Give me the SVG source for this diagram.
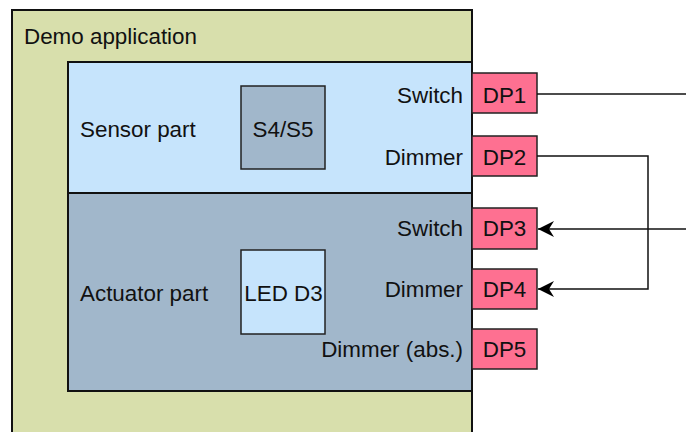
<svg xmlns="http://www.w3.org/2000/svg" width="686" height="432" viewBox="0 0 686 432">
<style>
text{font-family:"Liberation Sans",Arial,sans-serif;font-size:22.4px;fill:#111}
.box{stroke:#111;stroke-width:2}
.dp{fill:#fe7091;stroke:#222;stroke-width:1.5}
.lbl{text-anchor:end}
.mid{text-anchor:middle}
.wire{fill:none;stroke:#111;stroke-width:1.5}
</style>
<defs>
<marker id="arr" markerWidth="18" markerHeight="18" viewBox="0 0 18 18" refX="17" refY="9" orient="auto" markerUnits="userSpaceOnUse">
<path d="M17,9 L1,1 L6,9 L1,17 Z" fill="#000"/>
</marker>
</defs>
<g id="demo-app">
<rect class="box" x="12" y="10" width="460" height="440" fill="#d8dfac"/>
<text x="24" y="44">Demo application</text>
</g>
<g id="sensor-part">
<rect class="box" x="68" y="62" width="404" height="131" fill="#c6e4fc"/>
<text x="80" y="137">Sensor part</text>
<text class="lbl" x="463" y="103">Switch</text>
<text class="lbl" x="463" y="165">Dimmer</text>
</g>
<g id="s4s5">
<rect x="241" y="86" width="84" height="83" fill="#a1b7cb" stroke="#222" stroke-width="1.5"/>
<text class="mid" x="283" y="137">S4/S5</text>
</g>
<g id="actuator-part">
<rect class="box" x="68" y="193" width="404" height="198" fill="#a1b7cb"/>
<text x="80" y="301">Actuator part</text>
<text class="lbl" x="463" y="236">Switch</text>
<text class="lbl" x="463" y="297">Dimmer</text>
<text class="lbl" x="463" y="357">Dimmer (abs.)</text>
</g>
<g id="led-d3">
<rect x="241" y="250" width="84" height="84" fill="#c6e4fc" stroke="#222" stroke-width="1.5"/>
<text class="mid" x="283.5" y="301">LED D3</text>
</g>
<g id="dp1"><rect class="dp" x="472" y="73" width="65" height="40"/><text class="mid" x="504.5" y="103">DP1</text></g>
<g id="dp2"><rect class="dp" x="472" y="136" width="65" height="40"/><text class="mid" x="504.5" y="165">DP2</text></g>
<g id="dp3"><rect class="dp" x="472" y="208" width="65" height="41"/><text class="mid" x="504.5" y="236">DP3</text></g>
<g id="dp4"><rect class="dp" x="472" y="269" width="65" height="40"/><text class="mid" x="504.5" y="297">DP4</text></g>
<g id="dp5"><rect class="dp" x="472" y="329" width="65" height="40"/><text class="mid" x="504.5" y="357">DP5</text></g>
<g id="connectors">
<path class="wire" d="M537,94 H686"/>
<path class="wire" d="M537,156 H648 V289 H538" marker-end="url(#arr)"/>
<path class="wire" d="M686,229 H538" marker-end="url(#arr)"/>
</g>
</svg>
